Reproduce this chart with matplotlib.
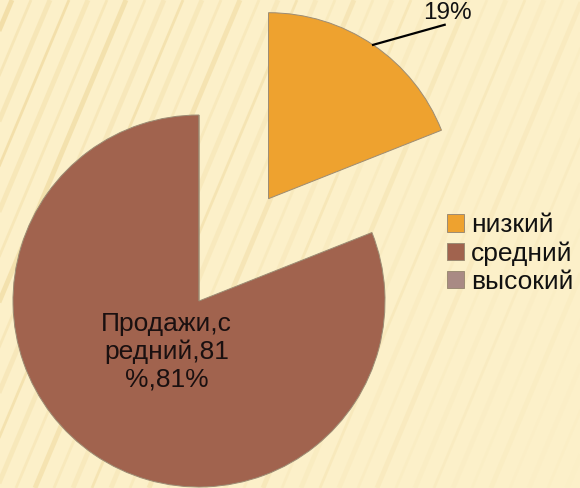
import textwrap
import numpy as np
import matplotlib
matplotlib.use("Agg")
import matplotlib.pyplot as plt

# данные
series_name = "Продажи"
categories = ["низкий", "средний", "высокий"]
shares = [0.19, 0.81, 0.0]
colors = ["#EEA22F", "#A1634E", "#A98A84"]

plt.rcParams['font.family'] = ['Liberation Sans', 'DejaVu Sans']

W, H = 580, 488
fig = plt.figure(figsize=(W / 100, H / 100), dpi=100)
fig.patch.set_facecolor("#FCF0C9")

# фон с косыми полосками
bg = fig.add_axes([0, 0, 1, 1], zorder=0)
bg.set_xlim(0, W)
bg.set_ylim(H, 0)
bg.axis("off")
slope = 0.42  # dx на dy
for i, x0 in enumerate(np.arange(-250, W + 40, 19)):
    alpha = 0.45 if i % 3 else 0.8
    fade = max(0.1, 1 - (x0 + 200) / (W + 250))
    bg.plot([x0, x0 + slope * H], [H, 0], color="#F0DAA0",
            lw=2.0 + (i % 2) * 1.5, alpha=alpha * fade, solid_capstyle="butt")

# пирог: 1 единица = 186 px, центр в (199, 301)
R = 186.0
cx, cy = 199.0, 301.0
ax = fig.add_axes([0, 0, 1, 1], zorder=1)
ax.patch.set_alpha(0)
wedges, _ = ax.pie(shares, colors=colors, startangle=90, counterclock=False,
                   explode=[0.665, 0, 0], radius=1,
                   wedgeprops=dict(edgecolor="#9C8C74", linewidth=0.7))
ax.set_aspect("equal")
ax.set_xlim(-cx / R, (W - cx) / R)
ax.set_ylim((cy - H) / R, cy / R)
ax.axis("off")

# подпись 19% с выноской
w0 = wedges[0]
mid = np.deg2rad((w0.theta1 + w0.theta2) / 2)
p0 = np.array(w0.center) + w0.r * np.array([np.cos(mid), np.sin(mid)])
p1 = p0 + np.array([0.385, 0.108])
ax.plot([p0[0], p1[0]], [p0[1], p1[1]], color="black", lw=1.6, clip_on=False)
ax.text(p1[0] + 0.015, p1[1] + 0.032, f"{shares[0] * 100:.0f}%", ha="center",
        va="baseline", fontsize=17.5, color="#111111")

# подпись внутри большого сектора
w1 = wedges[1]
mid1 = np.deg2rad((w1.theta1 + w1.theta2) / 2)
pos = np.array(w1.center) + 0.33 * np.array([np.cos(mid1), np.sin(mid1)])
pct = f"{shares[1] * 100:.0f}%"
full = f"{series_name},{categories[1]},{pct},{pct}"
ax.text(pos[0] + 0.01, pos[1], "\n".join(textwrap.wrap(full, 9)), ha="center",
        va="center", fontsize=19, color="#1A1010", linespacing=1.17)

leg = ax.legend(wedges, categories, loc="upper left",
                bbox_to_anchor=(434 / W, 1 - 200 / H),
                bbox_transform=fig.transFigure, frameon=False,
                fontsize=19, handlelength=0.65, handleheight=0.65,
                handletextpad=0.25, labelspacing=0.15, borderpad=0)
for t in leg.get_texts():
    t.set_color("#111111")

fig.savefig("out.png", dpi=100, facecolor=fig.get_facecolor())
